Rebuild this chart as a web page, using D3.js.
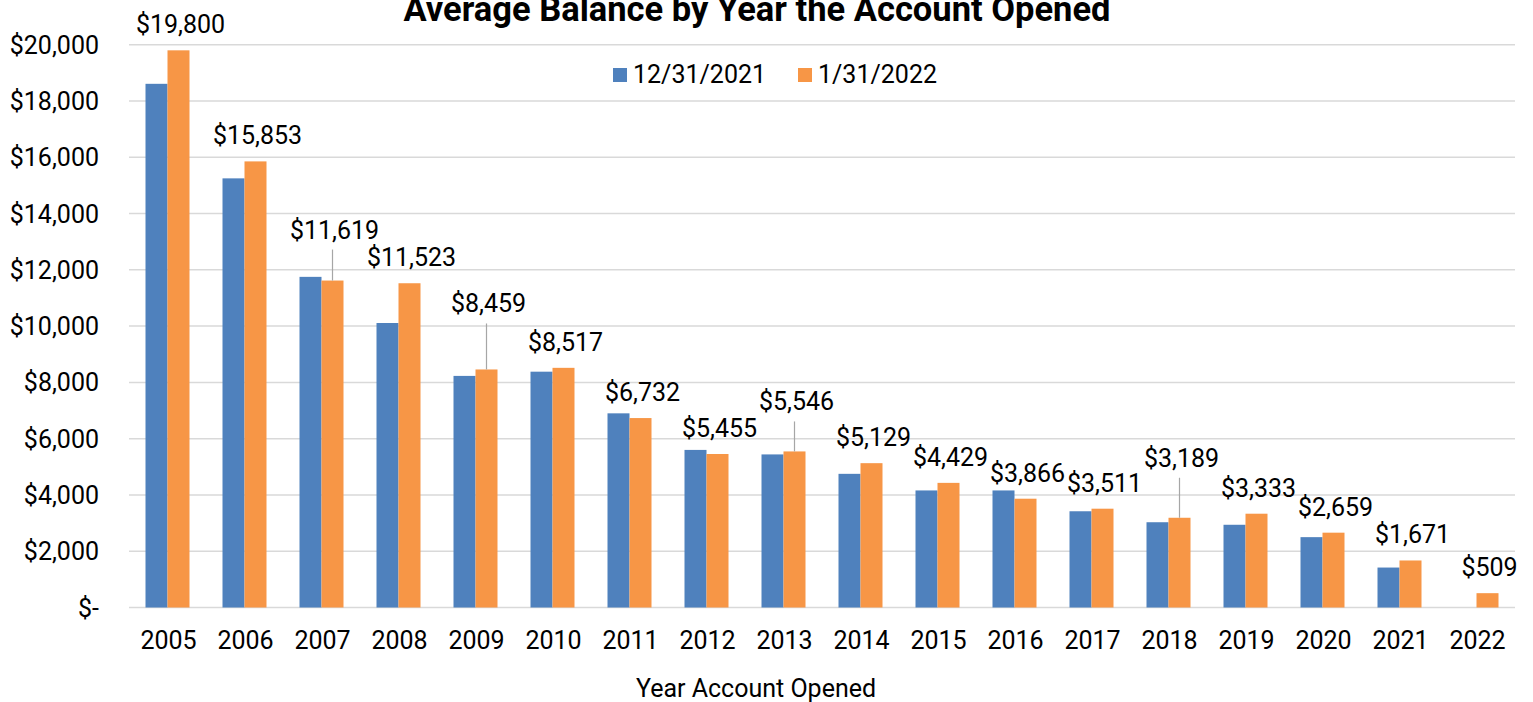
<!DOCTYPE html>
<html>
<head>
<meta charset="utf-8">
<script src="https://cdn.jsdelivr.net/npm/d3@7"></script>
<style>
  body { margin: 0; background: #fff; }
  text { font-family: Roboto, "Noto Sans", sans-serif; fill: #000; }
</style>
</head>
<body>
<div id="main"></div>
<script>
/*********************************************************
 * Data
 *********************************************************/
const years = ['2005', '2006', '2007', '2008', '2009', '2010', '2011', '2012', '2013',
  '2014', '2015', '2016', '2017', '2018', '2019', '2020', '2021', '2022'];
const seriesNames = ['12/31/2021', '1/31/2022'];
// 12/31/2021 values (no label in the source)
const dec2021 = [18610, 15250, 11750, 10110, 8230, 8380, 6900, 5600, 5440,
  4750, 4160, 4160, 3420, 3030, 2940, 2500, 1420, null];
// 1/31/2022 values from the data labels
const jan2022 = [19800, 15853, 11619, 11523, 8459, 8517, 6732, 5455, 5546,
  5129, 4429, 3866, 3511, 3189, 3333, 2659, 1671, 509];
const yTicks = [0, 2000, 4000, 6000, 8000, 10000, 12000, 14000, 16000, 18000, 20000];

/*********************************************************
 * Layout
 *********************************************************/
const svgWidth = 1533;
const svgHeight = 702;
const plot = { l: 129, r: 1515, t: 44.7, b: 607.5 };
const colors = ['#4f81bd', '#f79646'];
const fontSize = '25px';
// labels Excel moved up, with a leader line back to the bar
const labelLift = { '2007': 25, '2009': 40, '2013': 24, '2018': 34 };

const svg = d3
  .select('#main')
  .append('svg')
  .attr('width', svgWidth)
  .attr('height', svgHeight);

const x = d3.scaleBand()
  .domain(years)
  .range([plot.l, plot.r])
  .paddingInner(33 / 77)
  .paddingOuter(33 / 154);

const xSub = d3.scaleBand()
  .domain(seriesNames)
  .range([0, x.bandwidth()]);

const y = d3.scaleLinear()
  .domain([0, 20000])
  .range([plot.b, plot.t]);

// gridlines
svg.append('g')
  .selectAll('line')
  .data(yTicks)
  .enter()
  .append('line')
  .attr('x1', plot.l)
  .attr('x2', plot.r)
  .attr('y1', d => y(d))
  .attr('y2', d => y(d))
  .attr('stroke', '#d9d9d9')
  .attr('stroke-width', 1.5);

// y axis labels
const fmt = d3.format(',');
svg.append('g')
  .selectAll('text')
  .data(yTicks)
  .enter()
  .append('text')
  .attr('x', 99)
  .attr('y', d => y(d))
  .attr('dy', '0.36em')
  .attr('text-anchor', 'end')
  .style('font-size', fontSize)
  .text(d => (d === 0 ? '$-' : '$' + fmt(d)));

// x axis labels
svg.append('g')
  .selectAll('text')
  .data(years)
  .enter()
  .append('text')
  .attr('x', d => x(d) + x.bandwidth() / 2 + 1)
  .attr('y', 649)
  .attr('text-anchor', 'middle')
  .style('font-size', fontSize)
  .text(d => d);

// bars
const series = [dec2021, jan2022];
series.forEach((vals, s) => {
  svg.append('g')
    .selectAll('rect')
    .data(years.map((yr, i) => ({ year: yr, value: vals[i] })).filter(d => d.value != null))
    .enter()
    .append('rect')
    .attr('x', d => x(d.year) + xSub(seriesNames[s]))
    .attr('width', xSub.bandwidth())
    .attr('y', d => y(d.value))
    .attr('height', d => y(0) - y(d.value))
    .attr('fill', colors[s]);
});

// data labels for 1/31/2022
const labels = svg.append('g');
years.forEach((yr, i) => {
  const v = jan2022[i];
  const cx = x(yr) + xSub(seriesNames[1]) + xSub.bandwidth() / 2;
  const top = y(v);
  const lift = labelLift[yr] || 0;
  const base = top - 17 - lift;
  if (lift) {
    labels.append('line')
      .attr('x1', cx).attr('x2', cx)
      .attr('y1', base + 11).attr('y2', top)
      .attr('stroke', '#a6a6a6')
      .attr('stroke-width', 1.2);
  }
  labels.append('text')
    .attr('x', cx + 2)
    .attr('y', base)
    .attr('text-anchor', 'middle')
    .style('font-size', fontSize)
    .text('$' + fmt(v));
});

// title (cut at the top edge, as in the source)
svg.append('text')
  .attr('x', 757)
  .attr('y', 21)
  .attr('text-anchor', 'middle')
  .style('font-size', '34.5px')
  .style('font-weight', 'bold')
  .text('Average Balance by Year the Account Opened');

// x axis title
svg.append('text')
  .attr('x', 756)
  .attr('y', 697)
  .attr('text-anchor', 'middle')
  .style('font-size', fontSize)
  .text('Year Account Opened');

// legend
const legend = svg.append('g');
const legendX = [613, 798];
seriesNames.forEach((name, s) => {
  legend.append('rect')
    .attr('x', legendX[s])
    .attr('y', 68)
    .attr('width', 14)
    .attr('height', 14)
    .attr('fill', colors[s]);
  legend.append('text')
    .attr('x', legendX[s] + 20)
    .attr('y', 83)
    .style('font-size', fontSize)
    .text(name);
});
</script>
</body>
</html>
